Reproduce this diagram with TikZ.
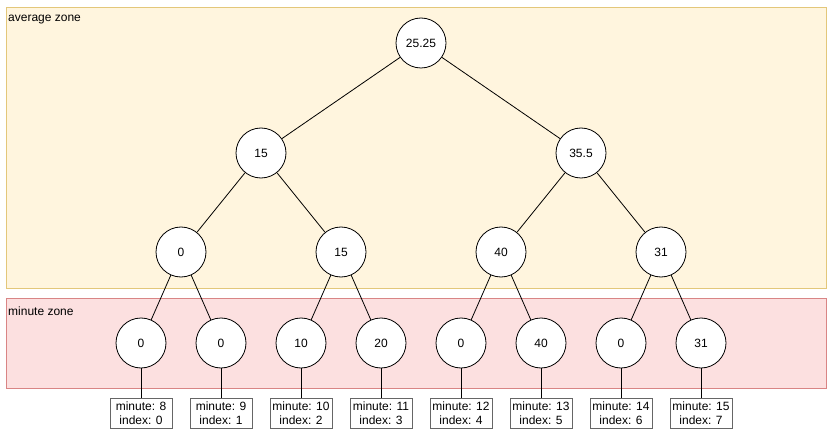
\documentclass[tikz,border=0pt]{standalone}
\usepackage{fontspec}
\setmainfont{Liberation Sans}
\begin{document}
\begin{tikzpicture}[x=1pt,y=-1pt,
  every node/.style={font=\fontsize{12}{14}\selectfont},
  treenode/.style={circle, draw=black, fill=white, line width=0.8pt, minimum size=50pt, inner sep=0pt},
  leafbox/.style={draw=black!60, fill=white, line width=0.8pt, minimum width=62pt, minimum height=30pt, inner sep=0pt, align=center, font=\fontsize{12}{13.5}\selectfont},
  link/.style={draw=black, line width=0.8pt},
  zonelabel/.style={anchor=west, inner sep=0pt}]
\definecolor{avgfill}{HTML}{FFF5DE}
\definecolor{avgline}{HTML}{E3C77A}
\definecolor{minfill}{HTML}{FCE0E0}
\definecolor{minline}{HTML}{D98585}
\useasboundingbox[fill=white] (0,0) rectangle (836,433);

% zones
\node[draw=avgline, fill=avgfill, line width=0.8pt, minimum width=820pt, minimum height=281pt, anchor=north west, inner sep=0pt] (avgzone) at (6,7) {};
\node[draw=minline, fill=minfill, line width=0.8pt, minimum width=820pt, minimum height=90pt, anchor=north west, inner sep=0pt] (minzone) at (6,298) {};
\node[zonelabel] (avglabel) at (8,20) {average zone};
\node[zonelabel] (minlabel) at (8,311) {minute zone};

% tree
\node[treenode] (r) at (421,43) {25.25};
\node[treenode] (a) at (261,153) {15};
\node[treenode] (b) at (581,153) {35.5};
\node[treenode] (a1) at (181,252) {0};
\node[treenode] (a2) at (341,252) {15};
\node[treenode] (b1) at (501,252) {40};
\node[treenode] (b2) at (661,252) {31};
\node[treenode] (l0) at (141,343) {0};
\node[treenode] (l1) at (221,343) {0};
\node[treenode] (l2) at (301,343) {10};
\node[treenode] (l3) at (381,343) {20};
\node[treenode] (l4) at (461,343) {0};
\node[treenode] (l5) at (541,343) {40};
\node[treenode] (l6) at (621,343) {0};
\node[treenode] (l7) at (701,343) {31};

\draw[link] (r) -- (a);
\draw[link] (r) -- (b);
\draw[link] (a) -- (a1);
\draw[link] (a) -- (a2);
\draw[link] (b) -- (b1);
\draw[link] (b) -- (b2);
\draw[link] (a1) -- (l0);
\draw[link] (a1) -- (l1);
\draw[link] (a2) -- (l2);
\draw[link] (a2) -- (l3);
\draw[link] (b1) -- (l4);
\draw[link] (b1) -- (l5);
\draw[link] (b2) -- (l6);
\draw[link] (b2) -- (l7);

% leaf info boxes
\foreach \i/\m in {0/8,1/9,2/10,3/11,4/12,5/13,6/14,7/15} {
  \node[leafbox] (box\i) at (141+80*\i,413) {minute: \m\\index: \i};
  \draw[link] (l\i) -- (box\i);
}
\end{tikzpicture}
\end{document}
